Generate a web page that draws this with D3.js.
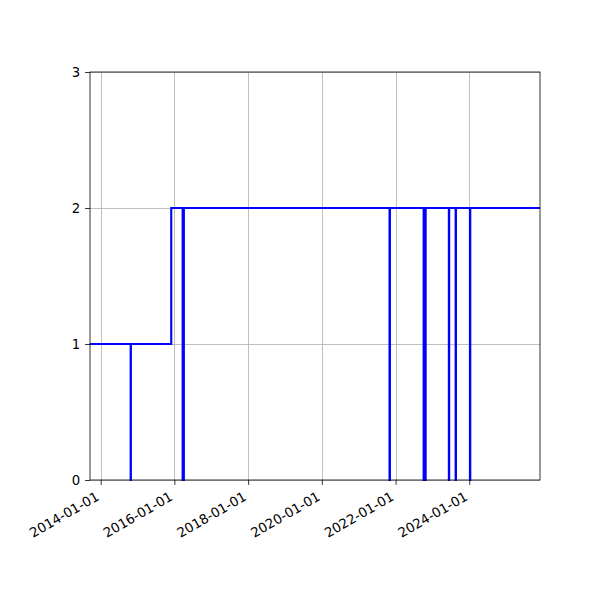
<!DOCTYPE html>
<html>
<head>
<meta charset="utf-8">
<script src="https://cdn.jsdelivr.net/npm/d3@7"></script>
<style>
  html, body { margin: 0; padding: 0; background: #fff; }
  svg text { font-family: 'DejaVu Sans', sans-serif; font-size: 13.3px; fill: #000; }
</style>
</head>
<body>
<svg id="chart" width="600" height="600"></svg>
<script>
'use strict';

// ── データ（段差の変化点と値） ─────────────────────────────────────────────
const changeDates = [
  '2013-09-17', '2014-10-25', '2014-10-27', '2015-12-01',
  '2016-03-23', '2016-04-04', '2021-11-02', '2021-11-06',
  '2022-10-06', '2022-10-26', '2023-06-13', '2023-06-16',
  '2023-08-19', '2023-08-22', '2024-01-08', '2024-01-11',
  '2025-12-02'
];
const stepValues = [1, 0, 1, 2, 0, 2, 0, 2, 0, 2, 0, 2, 0, 2, 0, 2, 2];

const xTickLabels = ['2014-01-01', '2016-01-01', '2018-01-01', '2020-01-01', '2022-01-01', '2024-01-01'];
const yTicks = [0, 1, 2, 3];

// ── レイアウト ────────────────────────────────────────────────────────────────
const M = { left: 90, right: 540, top: 72, bottom: 480 };
const parse = d3.utcParse('%Y-%m-%d');

const series = changeDates.map((d, i) => ({ date: parse(d), value: stepValues[i] }));

const x = d3.scaleUtc()
  .domain([series[0].date, series[series.length - 1].date])
  .range([M.left, M.right]);

const y = d3.scaleLinear()
  .domain([0, 3])
  .range([M.bottom, M.top]);

const svg = d3.select('#chart');

// グリッド
const grid = svg.append('g').attr('stroke', '#b0b0b0').attr('stroke-width', 0.8);
xTickLabels.forEach(t => {
  const px = Math.round(x(parse(t))) + 0.5;
  grid.append('line').attr('x1', px).attr('x2', px).attr('y1', M.top).attr('y2', M.bottom);
});
yTicks.forEach(t => {
  const py = Math.round(y(t)) + 0.5;
  grid.append('line').attr('x1', M.left).attr('x2', M.right).attr('y1', py).attr('y2', py);
});

// ステップ線
const line = d3.line()
  .x(d => x(d.date))
  .y(d => y(d.value))
  .curve(d3.curveStepAfter);

svg.append('path')
  .datum(series)
  .attr('fill', 'none')
  .attr('stroke', '#0000ff')
  .attr('stroke-width', 2.1)
  .attr('d', line);

// 軸
const xAxis = d3.axisBottom(x)
  .tickValues(xTickLabels.map(parse))
  .tickFormat(d3.utcFormat('%Y-%m-%d'))
  .tickSize(4.9)
  .tickPadding(4.9);

const gx = svg.append('g')
  .attr('transform', `translate(0,${M.bottom})`)
  .call(xAxis);
gx.select('.domain').remove();
gx.selectAll('line').attr('stroke', '#000').attr('stroke-width', 0.8);
gx.selectAll('text')
  .attr('text-anchor', 'end')
  .attr('y', 0)
  .attr('dy', '0.72em')
  .attr('transform', 'translate(-6,11) rotate(-30)');

const yAxis = d3.axisLeft(y)
  .tickValues(yTicks)
  .tickFormat(d3.format('d'))
  .tickSize(4.9)
  .tickPadding(4.9);

const gy = svg.append('g')
  .attr('transform', `translate(${M.left},0)`)
  .call(yAxis);
gy.select('.domain').remove();
gy.selectAll('line').attr('stroke', '#000').attr('stroke-width', 0.8);

svg.selectAll('g').attr('font-family', null).attr('font-size', null);

// 枠線
svg.append('rect')
  .attr('x', M.left).attr('y', M.top)
  .attr('width', M.right - M.left).attr('height', M.bottom - M.top)
  .attr('fill', 'none')
  .attr('stroke', '#000')
  .attr('stroke-width', 0.8);
</script>
</body>
</html>
